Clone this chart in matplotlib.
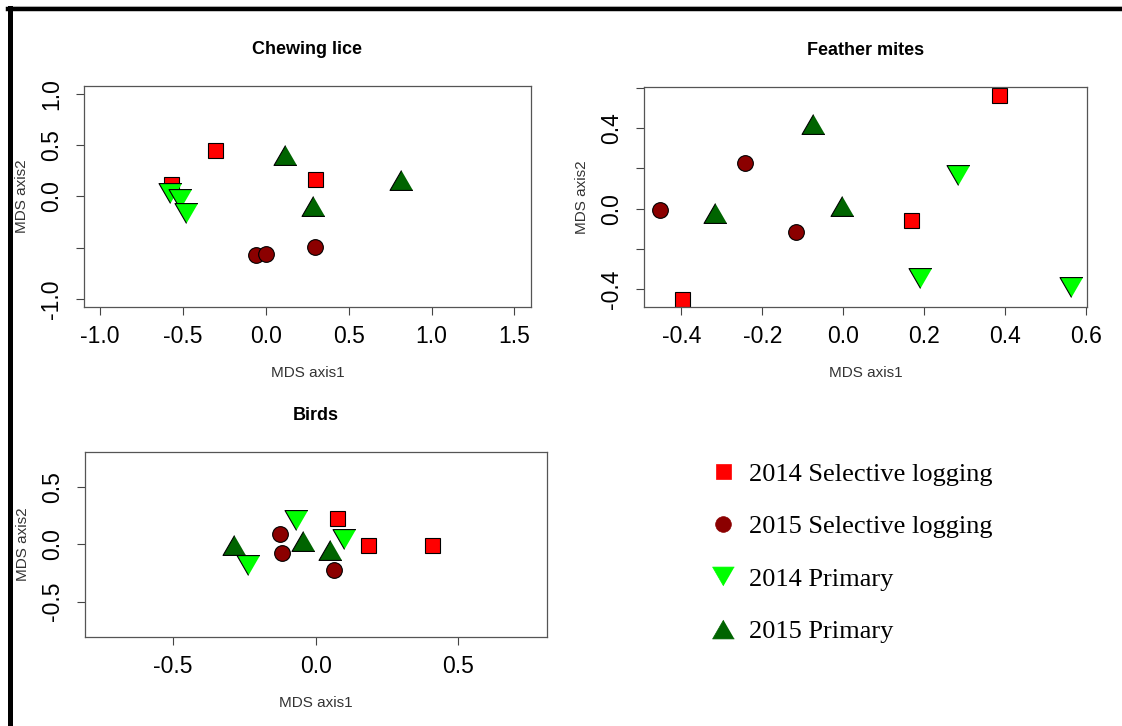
import numpy as np
import matplotlib
matplotlib.use('Agg')
import matplotlib.pyplot as plt
from matplotlib.lines import Line2D

plt.rcParams['font.family'] = ['Liberation Sans', 'DejaVu Sans']

groups = ['2014 Selective logging', '2015 Selective logging', '2014 Primary', '2015 Primary']
fills = ['#ff0000', '#8b0000', '#00ff00', '#006400']

# NMDS scores, one list per group (same order as groups)
lice_x = [[-0.308, 0.297, -0.574], [-0.062, -0.002, 0.299], [-0.578, -0.520, -0.484], [0.118, 0.817, 0.282]]
lice_y = [[0.456, 0.173, 0.124], [-0.573, -0.560, -0.495], [0.033, -0.023, -0.163], [0.407, 0.163, -0.098]]

mites_x = [[0.385, 0.168, -0.399], [-0.452, -0.243, -0.117], [0.284, 0.190, 0.562], [-0.075, -0.318, -0.004]]
mites_y = [[0.564, -0.056, -0.448], [-0.007, 0.225, -0.117], [0.167, -0.342, -0.387], [0.420, -0.020, 0.013]]

birds_x = [[0.074, 0.183, 0.406], [-0.124, -0.117, 0.063], [-0.070, 0.100, -0.236], [-0.286, -0.045, 0.050]]
birds_y = [[0.231, -0.009, -0.009], [0.091, -0.079, -0.225], [0.216, 0.050, -0.184], [-0.003, 0.026, -0.053]]

tri_up = [(0, 0.866), (-1, -0.866), (1, -0.866)]
tri_down = [(0, -0.866), (-1, 0.866), (1, 0.866)]
markers = ['s', 'o', tri_down, tri_up]
sizes = [10.8, 11.3, 16.5, 16.5]


def pad(lo, hi):
    d = hi - lo
    return lo - 0.04 * d, hi + 0.04 * d


def nmds_panel(ax, xs, ys, title, xticks, yticks, ylabels, xlim, ylim, lab_y, ylab_x):
    for k in range(4):
        ax.plot(xs[k], ys[k], ls='none', marker=markers[k], ms=sizes[k],
                mfc=fills[k], mec='black', mew=0.8)
    ax.set_xlim(*pad(*xlim))
    ax.set_ylim(*pad(*ylim))
    ax.set_xticks(xticks)
    ax.set_xticklabels(['%.1f' % t for t in xticks])
    ax.set_yticks(yticks)
    ax.set_yticklabels(ylabels, rotation=90, va='center')
    ax.tick_params(direction='out', length=6, width=0.8, color='#444444',
                   labelsize=16.5)
    ax.tick_params(axis='x', pad=7)
    ax.tick_params(axis='y', pad=9)
    for s in ax.spines.values():
        s.set_color('#555555')
        s.set_linewidth(0.9)
    ax.set_xlabel('MDS axis1', fontsize=11, color='#333333', va='center')
    ax.set_ylabel('MDS axis2', fontsize=11, color='#333333', va='center')
    ax.xaxis.set_label_coords(0.5, lab_y)
    ax.yaxis.set_label_coords(ylab_x, 0.5)
    h = ax.get_position().height * 726
    ax.text(0.5, 1 + 36.7 / h, title, transform=ax.transAxes, ha='center',
            va='center', fontsize=13, fontweight='bold')


fig = plt.figure(figsize=(11.22, 7.26), dpi=100)

ax1 = fig.add_axes([0.0745, 0.5771, 0.3988, 0.3048])
nmds_panel(ax1, lice_x, lice_y, 'Chewing lice',
           [-1.0, -0.5, 0.0, 0.5, 1.0, 1.5], [-1.0, -0.5, 0.0, 0.5, 1.0],
           ['-1.0', '', '0.0', '0.5', '1.0'], (-1.0, 1.5), (-1.0, 1.0),
           -0.298, -0.138)

mx = sum(mites_x, [])
my = sum(mites_y, [])
ax2 = fig.add_axes([0.574, 0.5771, 0.3948, 0.3034])
nmds_panel(ax2, mites_x, mites_y, 'Feather mites',
           [-0.4, -0.2, 0.0, 0.2, 0.4, 0.6], [-0.4, -0.2, 0.0, 0.2, 0.4, 0.6],
           ['-0.4', '', '0.0', '', '0.4', ''], (min(mx), max(mx)), (min(my), max(my)),
           -0.298, -0.14)

ax3 = fig.add_axes([0.0754, 0.1226, 0.4121, 0.2552])
nmds_panel(ax3, birds_x, birds_y, 'Birds',
           [-0.5, 0.0, 0.5], [-0.5, 0.0, 0.5], ['-0.5', '0.0', '0.5'],
           (-0.75, 0.75), (-0.75, 0.75), -0.356, -0.134)

# legend for the four groups
handles = [Line2D([], [], ls='none', marker=markers[k], ms=sizes[k] * (1.0 if k < 2 else 0.95),
                  mfc=fills[k], mec=fills[k], mew=0.5) for k in range(4)]
fig.legend(handles, groups, loc='upper left', bbox_to_anchor=(694 / 1122, 1 - 449 / 726),
           frameon=False, prop={'family': 'Liberation Serif', 'size': 19},
           labelspacing=1.1, handletextpad=0.4, handlelength=1.2, borderpad=0)

# outer frame: top and left edges only
fig.add_artist(Line2D([8 / 1122, 1], [1 - 6 / 726, 1 - 6 / 726], color='#dddddd', lw=0.8))
fig.add_artist(Line2D([8 / 1122, 1], [1 - 9 / 726, 1 - 9 / 726], color='black', lw=3.2))
fig.add_artist(Line2D([9.8 / 1122, 9.8 / 1122], [1 - 8 / 726, 0], color='black', lw=3.6))

fig.savefig('out.png', dpi=100)
